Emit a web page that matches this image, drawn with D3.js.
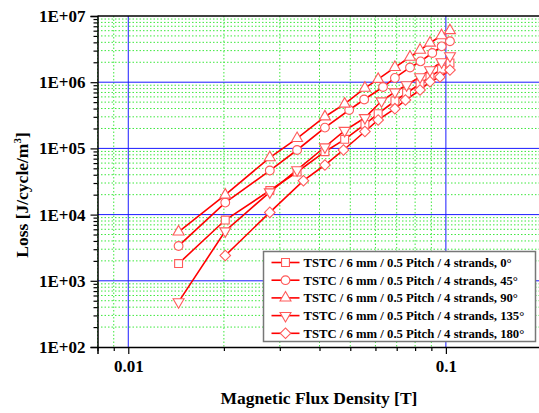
<!DOCTYPE html>
<html>
<head>
<meta charset="utf-8">
<script src="https://cdn.jsdelivr.net/npm/d3@7"></script>
<style>
  body { margin: 0; background: #fff; }
  svg { display: block; font-family: "Liberation Serif", "Times New Roman", serif; font-weight: bold; }
</style>
</head>
<body>
<svg id="chart" width="539" height="413"></svg>
<script>
// flux density [T] and loss [J/cycle/m^3] per winding angle
const xSquare = [0.0144, 0.0202, 0.0279, 0.0340, 0.0416, 0.0480, 0.0556, 0.0612, 0.0691, 0.0752, 0.0829, 0.0891, 0.0969, 0.1030];
const lossSquare = [1820, 8280, 23100, 44000, 89100, 137000, 230000, 334000, 520000, 687000, 940000, 1200000, 1580000, 1950000];

const xCircle = [0.0144, 0.0202, 0.0279, 0.0340, 0.0416, 0.0496, 0.0553, 0.0634, 0.0691, 0.0771, 0.0832, 0.0906, 0.0970, 0.1030];
const lossCircle = [3360, 15200, 46300, 94600, 206000, 380000, 548000, 845000, 1160000, 1670000, 2060000, 2760000, 3480000, 4150000];

const xTriangle = [0.0144, 0.0202, 0.0279, 0.0340, 0.0416, 0.0480, 0.0556, 0.0612, 0.0691, 0.0771, 0.0829, 0.0891, 0.0969, 0.1030];
const lossTriangle = [5500, 19800, 72800, 142000, 301000, 469000, 816000, 1110000, 1680000, 2400000, 3060000, 3910000, 5070000, 6040000];

const xDown = [0.0144, 0.0202, 0.0279, 0.0340, 0.0416, 0.0480, 0.0556, 0.0627, 0.0691, 0.0752, 0.0829, 0.0891, 0.0969, 0.1030];
const lossDown = [480, 5650, 21900, 47200, 105000, 186000, 290000, 520000, 711000, 908000, 1200000, 1530000, 2020000, 2490000];

const xDiamond = [0.0202, 0.0279, 0.0356, 0.0416, 0.0476, 0.0556, 0.0612, 0.0691, 0.0746, 0.0829, 0.0891, 0.0958, 0.1030];
const lossDiamond = [2410, 10800, 32500, 56100, 94600, 180000, 269000, 398000, 538000, 762000, 1020000, 1200000, 1530000];

const seriesNames = [
  "TSTC / 6 mm / 0.5 Pitch / 4 strands, 0°",
  "TSTC / 6 mm / 0.5 Pitch / 4 strands, 45°",
  "TSTC / 6 mm / 0.5 Pitch / 4 strands, 90°",
  "TSTC / 6 mm / 0.5 Pitch / 4 strands, 135°",
  "TSTC / 6 mm / 0.5 Pitch / 4 strands, 180°"
];

const xMajorTicks = [0.01, 0.1];
const xTickLabels = ["0.01", "0.1"];
const yMajorTicks = [1e2, 1e3, 1e4, 1e5, 1e6, 1e7];
const yTickLabels = ["1E+02", "1E+03", "1E+04", "1E+05", "1E+06", "1E+07"];

const series = [
  { name: seriesNames[0], xs: xSquare, ys: lossSquare, shape: "square" },
  { name: seriesNames[1], xs: xCircle, ys: lossCircle, shape: "circle" },
  { name: seriesNames[2], xs: xTriangle, ys: lossTriangle, shape: "up" },
  { name: seriesNames[3], xs: xDown, ys: lossDown, shape: "down" },
  { name: seriesNames[4], xs: xDiamond, ys: lossDiamond, shape: "diamond" }
];

const svg = d3.select("#chart");
const margin = { top: 16, left: 97.5 };
const width = 444;
const height = 331;

const x = d3.scaleLog().domain([0.008, 0.2]).range([0, width]);
const y = d3.scaleLog().domain([1e2, 1e7]).range([height, 0]);

const g = svg.append("g").attr("transform", `translate(${margin.left},${margin.top})`);

const xMinor = x.ticks().filter(d => !xMajorTicks.some(m => Math.abs(m - d) < 1e-9));
const yMinor = y.ticks().filter(d => !yMajorTicks.some(m => Math.abs(m - d) / m < 1e-9));

// minor grid
g.append("g").selectAll("line")
  .data(xMinor)
  .join("line")
  .attr("x1", d => x(d)).attr("x2", d => x(d))
  .attr("y1", 0).attr("y2", height)
  .attr("stroke", "#3ee83e").attr("stroke-width", 1).attr("stroke-dasharray", "1.5,2");

g.append("g").selectAll("line")
  .data(yMinor)
  .join("line")
  .attr("x1", 0).attr("x2", width)
  .attr("y1", d => y(d)).attr("y2", d => y(d))
  .attr("stroke", "#3ee83e").attr("stroke-width", 1).attr("stroke-dasharray", "1.5,2");

// major grid
g.append("g").selectAll("line")
  .data(xMajorTicks)
  .join("line")
  .attr("x1", d => x(d)).attr("x2", d => x(d))
  .attr("y1", 0).attr("y2", height)
  .attr("stroke", "#1a1aff").attr("stroke-width", 1);

g.append("g").selectAll("line")
  .data(yMajorTicks.slice(1, -1))
  .join("line")
  .attr("x1", 0).attr("x2", width)
  .attr("y1", d => y(d)).attr("y2", d => y(d))
  .attr("stroke", "#1a1aff").attr("stroke-width", 1);

// top border
g.append("line")
  .attr("x1", 0).attr("x2", width).attr("y1", 0).attr("y2", 0)
  .attr("stroke", "#000").attr("stroke-width", 1.5);

// symbols
function symbolPath(shape) {
  if (shape === "square") return d3.symbol(d3.symbolSquare, 62)();
  if (shape === "circle") return d3.symbol(d3.symbolCircle, 60)();
  if (shape === "up" || shape === "down") return d3.symbol(d3.symbolTriangle, 52)();
  return d3.symbol(d3.symbolSquare, 56)();
}
function symbolRotate(shape) {
  if (shape === "down") return " rotate(180)";
  if (shape === "diamond") return " rotate(45)";
  return "";
}

const line = d3.line().x(d => x(d[0])).y(d => y(d[1]));

series.forEach(s => {
  const pts = s.xs.map((v, i) => [v, s.ys[i]]);
  g.append("path")
    .datum(pts)
    .attr("d", line)
    .attr("fill", "none")
    .attr("stroke", "#ff0000")
    .attr("stroke-width", 1.6);
});

series.forEach(s => {
  const pts = s.xs.map((v, i) => [v, s.ys[i]]);
  g.append("g").selectAll("path")
    .data(pts)
    .join("path")
    .attr("d", symbolPath(s.shape))
    .attr("transform", d => `translate(${x(d[0])},${y(d[1])})${symbolRotate(s.shape)}`)
    .attr("fill", "#fff")
    .attr("stroke", "#ff5a5a")
    .attr("stroke-width", 1.1);
});

// axes
const xAxis = g.append("g").attr("transform", `translate(0,${height})`)
  .call(d3.axisBottom(x).tickValues(xMajorTicks).tickFormat((d, i) => xTickLabels[i]).tickSize(7).tickPadding(6));
g.append("g").attr("transform", `translate(0,${height})`)
  .call(d3.axisBottom(x).tickValues(xMinor).tickFormat("").tickSize(4))
  .select(".domain").remove();

const yAxis = g.append("g")
  .call(d3.axisLeft(y).tickValues(yMajorTicks).tickFormat((d, i) => yTickLabels[i]).tickSize(7).tickPadding(5));
g.append("g")
  .call(d3.axisLeft(y).tickValues(yMinor).tickFormat("").tickSize(4))
  .select(".domain").remove();

g.selectAll(".domain").attr("stroke-width", 1.5);
g.selectAll(".tick line").attr("stroke-width", 1.2);
[xAxis, yAxis].forEach(a => a.selectAll("text")
  .style("font-family", "Liberation Serif").style("font-weight", "bold").style("font-size", "17px").attr("fill", "#000"));

// axis titles
svg.append("text")
  .attr("x", 319).attr("y", 404)
  .attr("text-anchor", "middle")
  .style("font-size", "17.5px")
  .text("Magnetic Flux Density [T]");

const yTitle = svg.append("text")
  .attr("transform", "translate(28,195) rotate(-90)")
  .attr("text-anchor", "middle")
  .style("font-size", "17.5px");
yTitle.append("tspan").text("Loss [J/cycle/m");
yTitle.append("tspan").attr("dy", -7).style("font-size", "11px").text("3");
yTitle.append("tspan").attr("dy", 7).text("]");

// legend
const legend = svg.append("g").attr("transform", "translate(263.5,251.5)");
legend.append("rect")
  .attr("width", 272).attr("height", 90)
  .attr("fill", "#fff").attr("stroke", "#777").attr("stroke-width", 1.5);

series.forEach((s, i) => {
  const ry = 11 + i * 17.7;
  const row = legend.append("g").attr("transform", `translate(0,${ry})`);
  row.append("line")
    .attr("x1", 8).attr("x2", 36).attr("y1", 0).attr("y2", 0)
    .attr("stroke", "#ff0000").attr("stroke-width", 1.6);
  row.append("path")
    .attr("d", symbolPath(s.shape))
    .attr("transform", `translate(22,0)${symbolRotate(s.shape)}`)
    .attr("fill", "#fff")
    .attr("stroke", "#ff5a5a")
    .attr("stroke-width", 1.1);
  row.append("text")
    .attr("x", 40).attr("y", 0).attr("dy", "0.35em")
    .style("font-size", "12.7px")
    .text(s.name);
});
</script>
</body>
</html>
